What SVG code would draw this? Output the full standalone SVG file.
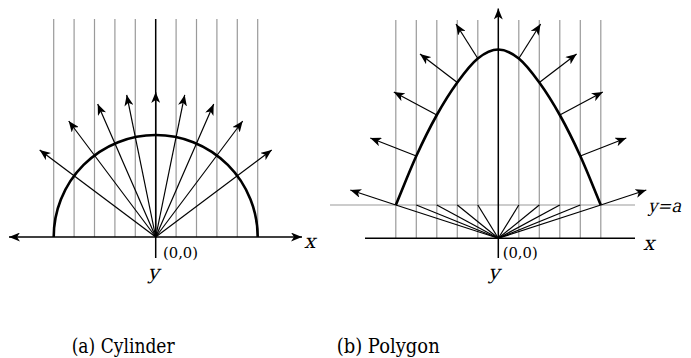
<svg xmlns="http://www.w3.org/2000/svg" width="691" height="358" viewBox="0 0 691 358">
<style>
.grid{stroke:#9a9a9a;stroke-width:1.2;fill:none}
.axis{stroke:#000;stroke-width:1.5;fill:none}
.ray{stroke:#000;stroke-width:1.2;fill:none}
.arr{marker-end:url(#ah)}
.curve{stroke:#000;stroke-width:2.6;fill:none}
text{font-family:"DejaVu Serif",serif;fill:#000}
.lbl{font-size:20px}
.org{font-size:14px}
.cap{font-size:21px}
</style>
<defs>
<marker id="ah" viewBox="0 0 11 9" refX="11" refY="4.5" markerWidth="11" markerHeight="9" markerUnits="userSpaceOnUse" orient="auto-start-reverse">
<path d="M0,0 L11,4.5 L0,9 L3,4.5 z" fill="#000"/>
</marker>
</defs>

<g id="cylinder">
<g id="cyl-grid" class="grid">
<line x1="53.7" y1="19" x2="53.7" y2="237"/>
<line x1="74.1" y1="19" x2="74.1" y2="237"/>
<line x1="94.5" y1="19" x2="94.5" y2="237"/>
<line x1="114.9" y1="19" x2="114.9" y2="237"/>
<line x1="135.3" y1="19" x2="135.3" y2="237"/>
<line x1="176.1" y1="19" x2="176.1" y2="237"/>
<line x1="196.5" y1="19" x2="196.5" y2="237"/>
<line x1="216.9" y1="19" x2="216.9" y2="237"/>
<line x1="237.3" y1="19" x2="237.3" y2="237"/>
<line x1="257.7" y1="19" x2="257.7" y2="237"/>
</g>
<g id="cyl-axes">
<line class="axis" x1="155.7" y1="19" x2="155.7" y2="258"/>
<line class="axis" x1="9" y1="237" x2="302" y2="237" marker-start="url(#ah)" marker-end="url(#ah)"/>
</g>
<path id="cyl-shape" class="curve" d="M53.7,237 A102,102 0 0 1 257.7,237"/>
<g id="cyl-rays" class="ray">
<line class="arr" x1="155.7" y1="237" x2="155.7" y2="92"/>
<line class="arr" x1="155.7" y1="237" x2="184.7" y2="94.9"/>
<line class="arr" x1="155.7" y1="237" x2="213.7" y2="104.1"/>
<line class="arr" x1="155.7" y1="237" x2="242.7" y2="121"/>
<line class="arr" x1="155.7" y1="237" x2="271.7" y2="150"/>
<line class="arr" x1="155.7" y1="237" x2="126.7" y2="94.9"/>
<line class="arr" x1="155.7" y1="237" x2="97.7" y2="104.1"/>
<line class="arr" x1="155.7" y1="237" x2="68.7" y2="121"/>
<line class="arr" x1="155.7" y1="237" x2="39.7" y2="150"/>
</g>
<text class="org" x="163" y="257.5" textLength="35" lengthAdjust="spacingAndGlyphs">(0,0)</text>
<text class="lbl" transform="translate(304,248) skewX(-14)">x</text>
<text class="lbl" transform="translate(153.5,279) skewX(-14)" text-anchor="middle">y</text>
<text class="cap" x="71.7" y="352.5" textLength="103" lengthAdjust="spacingAndGlyphs">(a) Cylinder</text>
</g>

<g id="polygon">
<g id="poly-grid" class="grid">
<line x1="395.8" y1="20" x2="395.8" y2="238.3"/>
<line x1="416.3" y1="20" x2="416.3" y2="238.3"/>
<line x1="436.8" y1="20" x2="436.8" y2="238.3"/>
<line x1="457.3" y1="20" x2="457.3" y2="238.3"/>
<line x1="477.8" y1="20" x2="477.8" y2="238.3"/>
<line x1="518.8" y1="20" x2="518.8" y2="238.3"/>
<line x1="539.3" y1="20" x2="539.3" y2="238.3"/>
<line x1="559.8" y1="20" x2="559.8" y2="238.3"/>
<line x1="580.3" y1="20" x2="580.3" y2="238.3"/>
<line x1="600.8" y1="20" x2="600.8" y2="238.3"/>
<line x1="330" y1="205" x2="635" y2="205"/>
</g>
<g id="poly-axes">
<line class="axis" x1="365" y1="238.3" x2="635" y2="238.3"/>
<line class="axis" x1="498.3" y1="258" x2="498.3" y2="8.5" marker-end="url(#ah)"/>
</g>
<g id="poly-fan" class="ray">
<line x1="498.3" y1="238.3" x2="395.8" y2="205"/>
<line x1="498.3" y1="238.3" x2="416.3" y2="205"/>
<line x1="498.3" y1="238.3" x2="436.8" y2="205"/>
<line x1="498.3" y1="238.3" x2="457.3" y2="205"/>
<line x1="498.3" y1="238.3" x2="477.8" y2="205"/>
<line x1="498.3" y1="238.3" x2="518.8" y2="205"/>
<line x1="498.3" y1="238.3" x2="539.3" y2="205"/>
<line x1="498.3" y1="238.3" x2="559.8" y2="205"/>
<line x1="498.3" y1="238.3" x2="580.3" y2="205"/>
<line x1="498.3" y1="238.3" x2="600.8" y2="205"/>
</g>
<path id="poly-shape" class="curve" d="M395.8,205 C402.63,188.67 409.47,171 416.3,156 C423.13,141 429.97,127.25 436.8,115 C443.63,102.75 450.47,91.92 457.3,82.5 C464.13,73.08 470.97,64 477.8,58.5 C484.63,53 491.47,49.5 498.3,49.5 C505.13,49.5 511.97,53 518.8,58.5 C525.63,64 532.47,73.08 539.3,82.5 C546.13,91.92 552.97,102.75 559.8,115 C566.63,127.25 573.47,141 580.3,156 C587.13,171 593.97,188.67 600.8,205"/>
<g id="poly-normals" class="ray">
<line class="arr" x1="395.8" y1="205" x2="350.3" y2="190"/>
<line class="arr" x1="416.3" y1="156" x2="370.3" y2="138"/>
<line class="arr" x1="436.8" y1="115" x2="393.8" y2="92"/>
<line class="arr" x1="457.3" y1="82.5" x2="420" y2="54"/>
<line class="arr" x1="477.8" y1="58.5" x2="456" y2="24"/>
<line class="arr" x1="600.8" y1="205" x2="646.3" y2="190"/>
<line class="arr" x1="580.3" y1="156" x2="626.3" y2="138"/>
<line class="arr" x1="559.8" y1="115" x2="602.8" y2="92"/>
<line class="arr" x1="539.3" y1="82.5" x2="576.6" y2="54"/>
<line class="arr" x1="518.8" y1="58.5" x2="540.6" y2="24"/>
</g>
<text class="org" x="502.7" y="258" textLength="35" lengthAdjust="spacingAndGlyphs">(0,0)</text>
<text class="lbl" transform="translate(643,250) skewX(-14)">x</text>
<text class="lbl" transform="translate(494,279) skewX(-14)" text-anchor="middle">y</text>
<text class="lbl" transform="translate(648,212) skewX(-14)" style="font-size:18px" textLength="33" lengthAdjust="spacingAndGlyphs">y=a</text>
<text class="cap" x="336.7" y="352.5" textLength="103" lengthAdjust="spacingAndGlyphs">(b) Polygon</text>
</g>
</svg>
